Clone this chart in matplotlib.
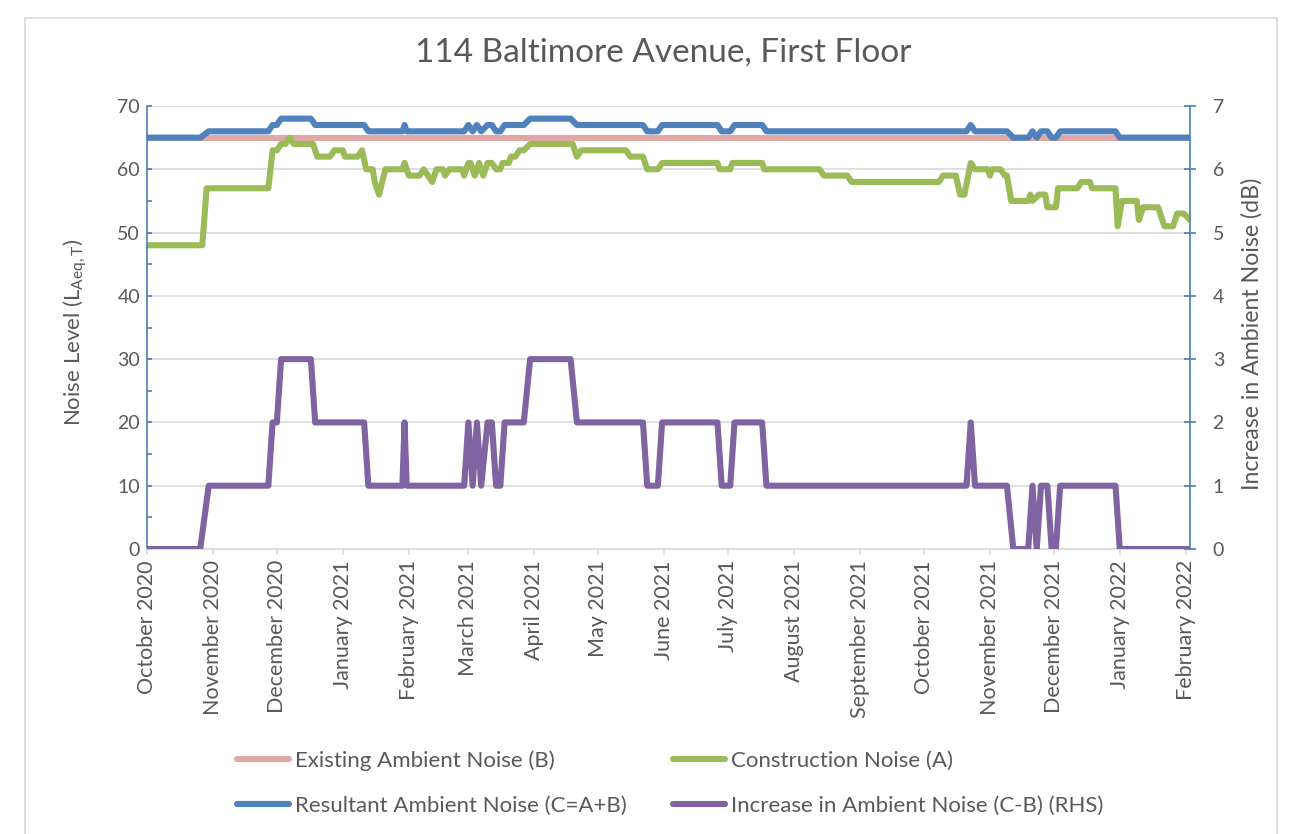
import matplotlib
matplotlib.use("Agg")
import matplotlib.pyplot as plt
import matplotlib.dates as mdates
import pandas as pd
from matplotlib.patches import Rectangle

# ------------------------------------------------------
# Data
# ------------------------------------------------------
existing_dates = ["2020-10-01", "2022-02-03"]
existing_noise = [65, 65]

construction_dates = [
    "2020-10-01", "2020-10-27", "2020-10-29", "2020-11-27", "2020-11-29", "2020-12-01",
    "2020-12-03", "2020-12-05", "2020-12-07", "2020-12-09", "2020-12-18", "2020-12-20",
    "2020-12-26", "2020-12-28", "2021-01-01", "2021-01-02", "2021-01-08", "2021-01-10",
    "2021-01-12", "2021-01-15", "2021-01-16", "2021-01-18", "2021-01-21", "2021-01-29",
    "2021-01-30", "2021-02-01", "2021-02-06", "2021-02-08", "2021-02-10", "2021-02-12",
    "2021-02-14", "2021-02-17", "2021-02-18", "2021-02-20", "2021-02-26", "2021-02-27",
    "2021-03-01", "2021-03-02", "2021-03-04", "2021-03-06", "2021-03-08", "2021-03-10",
    "2021-03-12", "2021-03-14", "2021-03-16", "2021-03-17", "2021-03-20", "2021-03-21",
    "2021-03-23", "2021-03-25", "2021-03-27", "2021-03-30", "2021-04-19", "2021-04-21",
    "2021-04-23", "2021-05-14", "2021-05-16", "2021-05-22", "2021-05-24", "2021-05-29",
    "2021-05-31", "2021-06-26", "2021-06-27", "2021-07-02", "2021-07-03", "2021-07-17",
    "2021-07-18", "2021-08-13", "2021-08-15", "2021-08-26", "2021-08-28", "2021-10-08",
    "2021-10-10", "2021-10-16", "2021-10-18", "2021-10-20", "2021-10-23", "2021-10-25",
    "2021-10-31", "2021-11-01", "2021-11-02", "2021-11-06", "2021-11-08", "2021-11-09",
    "2021-11-11", "2021-11-19", "2021-11-20", "2021-11-21", "2021-11-24", "2021-11-27",
    "2021-11-28", "2021-12-02", "2021-12-03", "2021-12-12", "2021-12-14", "2021-12-18",
    "2021-12-19", "2021-12-30", "2021-12-31", "2022-01-02", "2022-01-09", "2022-01-10",
    "2022-01-12", "2022-01-19", "2022-01-21", "2022-01-22", "2022-01-26", "2022-01-28",
    "2022-01-31", "2022-02-03",
]
construction_noise = [
    48, 48, 57, 57, 63, 63,
    64, 64, 65, 64, 64, 62,
    62, 63, 63, 62, 62, 63,
    60, 60, 58, 56, 60, 60,
    61, 59, 59, 60, 59, 58,
    60, 60, 59, 60, 60, 59,
    61, 61, 59, 61, 59, 61,
    61, 60, 60, 61, 61, 62,
    62, 63, 63, 64, 64, 62,
    63, 63, 62, 62, 60, 60,
    61, 61, 60, 60, 61, 61,
    60, 60, 59, 59, 58, 58,
    59, 59, 56, 56, 61, 60,
    60, 59, 60, 60, 59, 59,
    55, 55, 56, 55, 56, 56,
    54, 54, 57, 57, 58, 58,
    57, 57, 51, 55, 55, 52,
    54, 54, 52, 51, 51, 53,
    53, 52,
]

resultant_dates = [
    "2020-10-01", "2020-10-26", "2020-10-30", "2020-11-27", "2020-11-29", "2020-12-01",
    "2020-12-03", "2020-12-17", "2020-12-19", "2021-01-11", "2021-01-13", "2021-01-29",
    "2021-01-30", "2021-01-31", "2021-02-27", "2021-03-01", "2021-03-03", "2021-03-05",
    "2021-03-07", "2021-03-10", "2021-03-12", "2021-03-14", "2021-03-16", "2021-03-18",
    "2021-03-27", "2021-03-30", "2021-04-18", "2021-04-21", "2021-05-22", "2021-05-24",
    "2021-05-29", "2021-05-31", "2021-06-26", "2021-06-28", "2021-07-02", "2021-07-04",
    "2021-07-17", "2021-07-19", "2021-10-21", "2021-10-23", "2021-10-25", "2021-11-09",
    "2021-11-12", "2021-11-19", "2021-11-21", "2021-11-23", "2021-11-25", "2021-11-28",
    "2021-11-30", "2021-12-02", "2021-12-04", "2021-12-30", "2022-01-01", "2022-02-03",
]
resultant_noise = [
    65, 65, 66, 66, 67, 67,
    68, 68, 67, 67, 66, 66,
    67, 66, 66, 67, 66, 67,
    66, 67, 67, 66, 66, 67,
    67, 68, 68, 67, 67, 66,
    66, 67, 67, 66, 66, 67,
    67, 66, 66, 67, 66, 66,
    65, 65, 66, 65, 66, 66,
    65, 65, 66, 66, 65, 65,
]
increase_noise = [
    0, 0, 1, 1, 2, 2,
    3, 3, 2, 2, 1, 1,
    2, 1, 1, 2, 1, 2,
    1, 2, 2, 1, 1, 2,
    2, 3, 3, 2, 2, 1,
    1, 2, 2, 1, 1, 2,
    2, 1, 1, 2, 1, 1,
    0, 0, 1, 0, 1, 1,
    0, 0, 1, 1, 0, 0,
]

# ------------------------------------------------------
# Style
# ------------------------------------------------------
PINK = "#DFA8A7"
GREEN = "#9BBB59"
BLUE = "#4F81BD"
PURPLE = "#8064A2"
AXIS_BLUE = "#4A7EBB"
GRID = "#D9D9D9"
TEXT = "#595959"

plt.rcParams.update({
    "font.family": ["Lato", "DejaVu Sans"],
    "mathtext.fontset": "custom",
    "mathtext.rm": "Lato",
    "mathtext.it": "Lato:italic",
    "text.color": TEXT,
    "xtick.color": TEXT,
    "ytick.color": TEXT,
})

fig = plt.figure(figsize=(13, 8.34), dpi=100)
fig.add_artist(Rectangle((25 / 1300, -0.01), 1252 / 1300, 1 - 18 / 834 + 0.01,
                         transform=fig.transFigure, fill=False,
                         edgecolor=GRID, linewidth=1.2))

ax = fig.add_axes([147 / 1300, 1 - 549 / 834, (1190 - 147) / 1300, (549 - 106) / 834])
ax2 = ax.twinx()

lw = 4.4
kw = dict(linewidth=lw, solid_capstyle="round", solid_joinstyle="round")
l_b, = ax.plot(pd.to_datetime(existing_dates), existing_noise, color=PINK,
               label="Existing Ambient Noise (B)", **kw)
l_a, = ax.plot(pd.to_datetime(construction_dates), construction_noise, color=GREEN,
               label="Construction Noise (A)", **kw)
l_c, = ax.plot(pd.to_datetime(resultant_dates), resultant_noise, color=BLUE,
               label="Resultant Ambient Noise (C=A+B)", **kw)
l_d, = ax2.plot(pd.to_datetime(resultant_dates), increase_noise, color=PURPLE,
                label="Increase in Ambient Noise (C-B) (RHS)", **kw)

ax.set_xlim(pd.Timestamp("2020-10-01"), pd.Timestamp("2022-02-03"))
ax.set_ylim(0, 70)
ax2.set_ylim(0, 7)
ax.set_yticks(range(0, 71, 10))
ax.set_yticks(range(5, 70, 10), minor=True)
ax2.set_yticks(range(0, 8))

ax.yaxis.grid(True, color=GRID, linewidth=1.2)
ax.set_axisbelow(True)

ax.xaxis.set_major_locator(mdates.MonthLocator())
ax.xaxis.set_major_formatter(mdates.DateFormatter("%B %Y"))
for lab in ax.get_xticklabels():
    lab.set_rotation(90)

for a in (ax, ax2):
    a.spines["top"].set_visible(False)
ax.spines["right"].set_visible(False)
ax2.spines["left"].set_visible(False)
ax2.spines["bottom"].set_visible(False)
ax.spines["left"].set_color(AXIS_BLUE)
ax.spines["left"].set_linewidth(1.2)
ax2.spines["right"].set_color(AXIS_BLUE)
ax2.spines["right"].set_linewidth(1.2)
ax.spines["bottom"].set_color(GRID)
ax.spines["bottom"].set_linewidth(1.2)

ax.tick_params(axis="y", which="both", direction="in", length=3.6, width=1.2,
               color=AXIS_BLUE, pad=5, labelsize=14)
ax.tick_params(axis="x", direction="out", length=4, width=1.2, color=GRID,
               pad=4, labelsize=15.5)
ax2.tick_params(axis="y", direction="inout", length=8.6, width=1.2,
                color=AXIS_BLUE, pad=12, labelsize=14)

fig.text(663 / 1300, 1 - 53 / 834, "114 Baltimore Avenue, First Floor",
         ha="center", va="center", fontsize=24, color=TEXT)
fig.text(75 / 1300, 1 - 332 / 834, r"Noise Level (L$_{\mathrm{Aeq,T}}$)",
         rotation=90, ha="center", va="center", fontsize=16)
fig.text(1252 / 1300, 1 - 334 / 834, "Increase in Ambient Noise (dB)",
         rotation=90, ha="center", va="center", fontsize=16.7)

# column-major fill: B, C in first column; A, D in second
fig.legend(handles=[l_b, l_c, l_a, l_d], ncol=2, loc="center",
           bbox_to_anchor=(670 / 1300, 1 - 783 / 834), frameon=False,
           fontsize=16, handlelength=2.35, handletextpad=0.25,
           columnspacing=2.1, labelspacing=1.1, labelcolor=TEXT)

fig.savefig("out.png", dpi=100)
